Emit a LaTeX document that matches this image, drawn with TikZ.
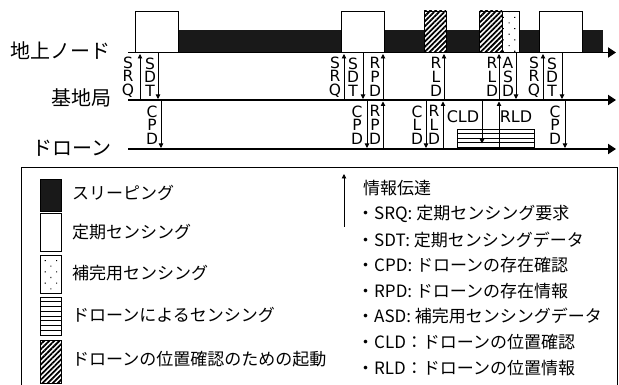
\documentclass[tikz,border=0pt]{standalone}
\usepackage{fontspec}
\setmainfont{DejaVu Sans}
\newfontfamily\jp{Noto Sans CJK JP}
\usetikzlibrary{arrows.meta,patterns.meta}
\begin{document}
\begin{tikzpicture}[x=1pt,y=-1pt,
  axis/.style={line width=1.8pt,-{Triangle[length=8pt,width=10pt]}},
  msg/.style={line width=0.9pt,-{Triangle[length=4.5pt,width=4.5pt]}},
  stack/.style={font=\fontsize{15.5}{13.7}\selectfont, align=center, inner sep=0pt},
  hlab/.style={font=\fontsize{16}{16}\selectfont, inner sep=0pt},
  lab/.style={font=\jp\fontsize{20}{20}\selectfont, anchor=east, inner sep=0pt},
  legtext/.style={font=\jp\fontsize{17}{17}\selectfont, anchor=west, inner sep=0pt},
  boxw/.style={draw, line width=0.8pt, fill=white},
  hatchbox/.style={draw, line width=0.8pt, preaction={fill=white}, pattern={Lines[angle=45,distance=3.6pt,line width=1.8pt]}},
  dotbox/.style={draw, line width=0.8pt, preaction={fill=white}, pattern={Dots[distance=8pt,radius=0.75pt,angle=45]}},
  legbox/.style={line width=0.9pt}
]
\useasboundingbox (0,0) rectangle (619,385);

% ---- state bands of the ground node ----
\fill[black!90] (178,30) rectangle (603,52.5);
\draw[boxw] (135,11) rectangle (178,52.5);
\draw[boxw] (341,11) rectangle (384,52.5);
\draw[hatchbox] (424,11) rectangle (446,52.5);
\draw[hatchbox] (479,11) rectangle (502,52.5);
\draw[dotbox] (502,11) rectangle (519,52.5);
\draw[boxw] (539,11) rectangle (582,52.5);

% ---- drone sensing box ----
\draw[line width=0.8pt, fill=white] (457,129) rectangle (534,149);
\foreach \y in {133.5,138,142.5,147} \draw[line width=0.8pt] (457,\y) -- (534,\y);

% ---- time axes ----
\coordinate (g0) at (128,52.5); \coordinate (g9) at (616,52.5);
\coordinate (b0) at (128,100);  \coordinate (b9) at (616,100);
\coordinate (d0) at (128,149);  \coordinate (d9) at (616,149);
\draw[axis] (g0) -- (g9);
\draw[axis] (b0) -- (b9);
\draw[axis] (d0) -- (d9);

\node[lab] (lg) at (111,51) {地上ノード};
\node[lab] (lb) at (112,98) {基地局};
\node[lab] (ld) at (112,148) {ドローン};

% ---- messages ----
\foreach \x [count=\i] in {140,344,383,444,499,543}
  \draw[msg] (\x,99) coordinate (ua\i) -- (\x,54) coordinate (ub\i);
\foreach \x [count=\i] in {158,363,516,562}
  \draw[msg] (\x,53.5) coordinate (da\i) -- (\x,99) coordinate (db\i);
\foreach \x [count=\i] in {161,367,426,565}
  \draw[msg] (\x,101) coordinate (ea\i) -- (\x,148) coordinate (eb\i);
\foreach \x [count=\i] in {383,443,499}
  \draw[msg] (\x,148) coordinate (fa\i) -- (\x,101.5) coordinate (fb\i);
\coordinate (cl1) at (482,101); \coordinate (cl2) at (482,143.5);
\draw[msg] (cl1) -- (cl2);

% ---- message labels ----
\node[stack] (s1) at (128,77) {S\\R\\Q};
\node[stack] (s2) at (150,77) {S\\D\\T};
\node[stack] (s3) at (335,77) {S\\R\\Q};
\node[stack] (s4) at (353,77) {S\\D\\T};
\node[stack] (s5) at (375,77) {R\\P\\D};
\node[stack] (s6) at (436,77) {R\\L\\D};
\node[stack] (s7) at (492,77) {R\\L\\D};
\node[stack] (s8) at (508,77) {A\\S\\D};
\node[stack] (s9) at (534,77) {S\\R\\Q};
\node[stack] (s10) at (552,77) {S\\D\\T};
\node[stack] (t1) at (152,125) {C\\P\\D};
\node[stack] (t2) at (357,125) {C\\P\\D};
\node[stack] (t3) at (375,125) {R\\P\\D};
\node[stack] (t4) at (417,125) {C\\L\\D};
\node[stack] (t5) at (434,125) {R\\L\\D};
\node[stack] (t6) at (555,125) {C\\P\\D};
\node[hlab] (h1) at (463,117) {CLD};
\node[hlab] (h2) at (516,117) {RLD};

% ---- legend ----
\draw[legbox] (21,386) -- (21,167) -- (617,167) -- (617,386);
\draw[fill=black!90, line width=0.8pt] (40,179) rectangle (61,211);
\draw[line width=0.8pt] (40,213) rectangle (61,251);
\draw[dotbox] (40,255) rectangle (61,293);
\draw[line width=0.8pt] (40,297) rectangle (61,335);
\foreach \y in {301.75,306.5,311.25,316,320.75,325.5,330.25} \draw[line width=0.8pt] (40,\y) -- (61,\y);
\draw[hatchbox] (40,340) rectangle (61,383);

\node[legtext] (k1) at (72,193) {スリーピング};
\node[legtext] (k2) at (72,232) {定期センシング};
\node[legtext] (k3) at (72,273) {補完用センシング};
\node[legtext] (k4) at (72,315) {ドローンによるセンシング};
\node[legtext] (k5) at (72,359) {ドローンの位置確認のための起動};

\coordinate (la1) at (344,227); \coordinate (la2) at (344,174);
\draw[msg] (la1) -- (la2);
\node[legtext] (m0) at (363,188) {情報伝達};
\node[legtext] (m1) at (357,214) {・SRQ: 定期センシング要求};
\node[legtext] (m2) at (357,240) {・SDT: 定期センシングデータ};
\node[legtext] (m3) at (357,265) {・CPD: ドローンの存在確認};
\node[legtext] (m4) at (357,291) {・RPD: ドローンの存在情報};
\node[legtext] (m5) at (357,316) {・ASD: 補完用センシングデータ};
\node[legtext] (m6) at (357,342) {・CLD：ドローンの位置確認};
\node[legtext] (m7) at (357,368) {・RLD：ドローンの位置情報};
\end{tikzpicture}
\end{document}
